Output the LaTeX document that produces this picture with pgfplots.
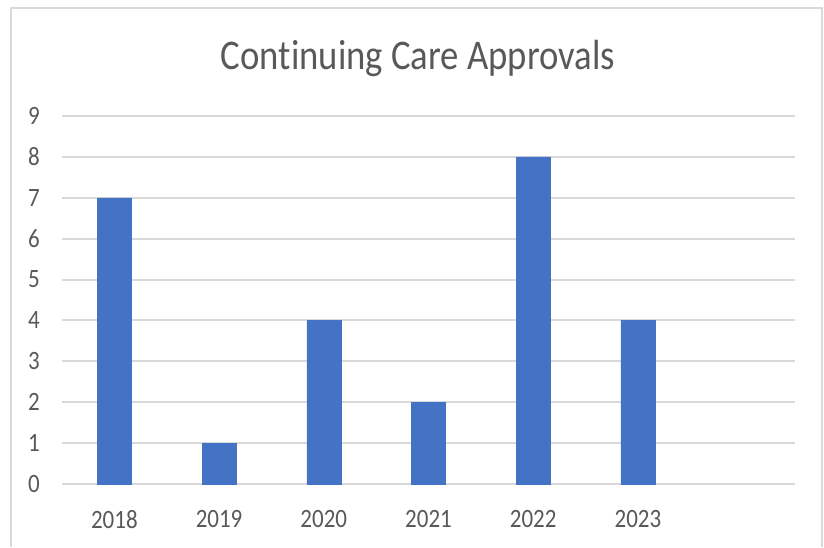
\documentclass[border=0pt]{standalone}
\usepackage{pgfplots}
\pgfplotsset{compat=1.18}
\usepackage{fontspec}
\setmainfont[Ligatures=NoCommon]{Carlito}
\definecolor{barblue}{HTML}{4472C4}
\definecolor{gridc}{HTML}{D9D9D9}
\definecolor{txt}{HTML}{595959}
\newcommand{\vs}[1]{\scalebox{1}[1.15]{#1}}
\begin{document}
\begin{tikzpicture}[x=1pt,y=1pt]
\useasboundingbox (0,0) rectangle (824,547);
\draw[gridc, line width=1.5pt] (11,0) -- (11,539) -- (822,539) -- (822,0);
\node[txt, anchor=base, inner sep=0pt, font=\fontsize{36.7}{40}\selectfont] at (418,477) {\vs{Continuing Care Approvals}};
\begin{axis}[
  at={(62pt,63pt)}, anchor=south west,
  scale only axis, width=733pt, height=368pt,
  xmin=-0.5, xmax=6.5, ymin=0, ymax=9,
  ytick={0,...,9}, xtick={0,...,5},
  xticklabels={\vs{2018},\vs{2019},\vs{2020},\vs{2021},\vs{2022},\vs{2023}},
  yticklabel={\vs{\pgfmathprintnumber[assume math mode=true]{\tick}}},
  axis line style={draw=none},
  tick style={draw=none},
  major tick length=0pt,
  ymajorgrids, grid style={gridc, line width=2pt},
  yticklabel style={txt, font=\fontsize{23}{26}\selectfont, inner sep=0pt, anchor=east, xshift=-22pt},
  xticklabel style={txt, font=\fontsize{23}{26}\selectfont, inner sep=0pt, anchor=north, yshift=-26pt},
  ybar, bar width=34pt,
]
\addplot[fill=barblue, draw=barblue] coordinates {(0,7) (1,1) (2,4) (3,2) (4,8) (5,4)};
\end{axis}
\end{tikzpicture}
\end{document}
